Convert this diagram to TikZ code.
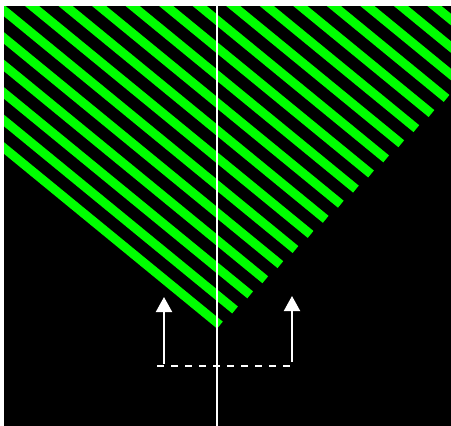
\documentclass[tikz,border=0pt]{standalone}
\usetikzlibrary{arrows.meta}
\tikzset{
  stripe/.style={line width=9pt, draw={rgb,255:red,0;green,255;blue,0}, line cap=butt},
  axisline/.style={white, line width=1.6pt},
  flowarrow/.style={white, line width=2pt, ->},
  baseline/.style={white, line width=2pt, dash pattern=on 7pt off 7pt}
}
\begin{document}
\begin{tikzpicture}[x=1pt, y=-1pt, line join=round, >={Triangle[width=16pt,length=15pt]}]
				\useasboundingbox (0,0) rectangle (451,426);
				\coordinate (NW) at (4,6);
				\coordinate (SE) at (451,426);
				\fill[black] (NW) rectangle (SE);
				% stripes, cut off along x+y=545
				\begin{scope}
					\clip (NW) rectangle (SE);
					\foreach \k in {0,...,19}{
						\pgfmathsetmacro\xe{(400.3+27.5*\k)/1.82}
						\pgfmathsetmacro\ye{148+0.82*(\xe-4)-27.5*\k}
						\pgfmathsetmacro\ys{148+0.82*(-44)-27.5*\k}
						\coordinate (S\k) at (-40,\ys);
						\coordinate (E\k) at (\xe,\ye);
						\draw[stripe] (S\k)--(E\k);
					}
				\end{scope}
				\coordinate (T) at (217,6);
				\coordinate (B) at (217,426);
				\draw[axisline] (T)--(B);
				\coordinate (A0) at (164,364);
				\coordinate (A1) at (164,297);
				\coordinate (C0) at (292,362);
				\coordinate (C1) at (292,296);
				\coordinate (D0) at (157,366);
				\coordinate (D1) at (293,366);
				\draw[flowarrow] (A0)--(A1);
				\draw[flowarrow] (C0)--(C1);
				\draw[baseline] (D0)--(D1);
			\end{tikzpicture}
\end{document}
